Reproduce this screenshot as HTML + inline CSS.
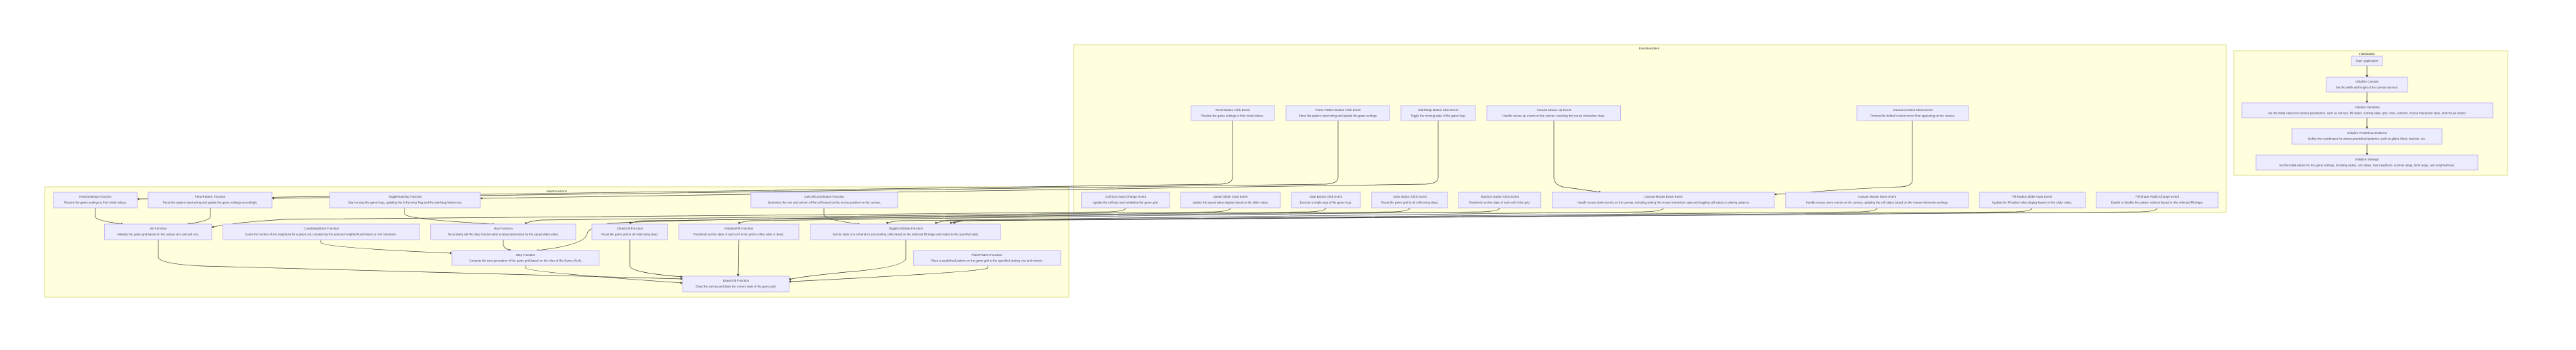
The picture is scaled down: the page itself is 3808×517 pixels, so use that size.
<!DOCTYPE html>
<html><head><meta charset="utf-8"><style>
html,body{margin:0;padding:0;background:#fff;width:3808px;height:517px;overflow:hidden}
svg{display:block}
.c{fill:#ffffde;stroke:#dede8a;stroke-width:1}
.n{fill:#ececff;stroke:#c9b8f0;stroke-width:1}
text{font-family:"Liberation Sans",sans-serif;fill:#444;text-anchor:middle}
.t{font-size:4.6px}
.d{font-size:4.4px}
.l{font-size:4.6px;fill:#333}
.e{fill:none;stroke:#3a3a3a;stroke-width:0.7}
</style></head><body>
<svg width="3808" height="517" viewBox="0 0 3808 517" xmlns="http://www.w3.org/2000/svg">
<defs><marker id="a" viewBox="0 0 10 10" refX="9" refY="5" markerWidth="5" markerHeight="5" orient="auto"><path d="M0,0L10,5L0,10z" fill="#333"/></marker></defs>

<!-- containers -->
<rect class="c" x="66" y="276" width="1514" height="163"/>
<text class="l" x="823" y="284">MainFunctions</text>
<rect class="c" x="1587" y="66" width="1704" height="248"/>
<text class="l" x="2438" y="73">EventHandlers</text>
<rect class="c" x="3302" y="75" width="405" height="184"/>
<text class="l" x="3499" y="81">Initialization</text>

<!-- edges -->
<g class="e" marker-end="url(#a)">
<path d="M1822,178 L1822,262 Q1822,271 1805,272 C1200,280 600,292 203,294"/>
<path d="M1978,178 L1978,262 Q1978,271 1960,272 C1400,280 900,290 402,293"/>
<path d="M2126,178 L2126,262 Q2126,271 2108,272 C1600,280 1100,290 710,293"/>
<path d="M2297,178 L2297,262 Q2297,272 2310,276 L2367,284"/>
<path d="M2827,178 L2827,266 Q2827,275 2810,276 C2700,280 2660,286 2623,287"/>
<path d="M1664,307 Q1664,312 1640,313 C1200,318 600,322 420,324 Q330,330 313,336"/>
<path d="M1819,307 Q1819,312 1795,313 C1400,318 900,322 800,325 Q780,327 776,331"/>
<path d="M1960,307 Q1960,312 1935,313 C1500,318 1000,323 900,330 Q870,336 868,345 Q866,362 793,370"/>
<path d="M2084,307 Q2084,312 2060,313 C1700,318 1100,322 950,326 Q932,328 931,331"/>
<path d="M2217,307 Q2217,312 2190,313 C1800,318 1200,322 1110,326 Q1093,328 1092,331"/>
<path d="M2459,307 Q2459,312 2430,313 C2000,318 1500,322 1330,326 Q1312,328 1311,331"/>
<path d="M2775,307 Q2775,312 2750,313 C2300,318 1700,322 1400,326 Q1384,328 1383,331"/>
<path d="M3004,307 Q3004,312 2980,313 C2500,318 1800,322 1420,326 Q1406,328 1405,331"/>
<path d="M3189,307 Q3189,312 3165,313 C2600,318 1900,322 1425,326 Q1411,328 1410,331"/>
<path d="M141,307 L141,320 Q141,326 182,331"/>
<path d="M311,307 L311,320 Q311,326 277,331"/>
<path d="M598,307 L598,316 Q600,324 731,331"/>
<path d="M1218,307 L1218,318 Q1222,325 1271,331"/>
<path d="M474,354 L474,358 Q478,366 668,374"/>
<path d="M234,354 L234,380 Q236,390 300,393 C600,402 900,408 1009,412"/>
<path d="M744,354 L744,362 Q746,368 756,370"/>
<path d="M777,392 L777,396 Q780,402 1009,418"/>
<path d="M931,354 L931,393 Q933,403 1009,409"/>
<path d="M1092,354 L1091,408"/>
<path d="M1339,354 L1339,382 Q1337,395 1250,402 Q1180,409 1166,413"/>
<path d="M1460,392 L1460,396 Q1450,402 1166,416"/>
<path d="M3499,97 L3499,114"/>
<path d="M3499,136 L3499,152"/>
<path d="M3499,174 L3499,190"/>
<path d="M3499,213 L3499,229"/>
</g>

<!-- MainFunctions nodes -->
<g>
<rect class="n" x="79" y="284" width="124" height="23"/><text class="t" x="141" y="292">ResetSettings Function</text><text class="d" x="141" y="300.5">Restore the game settings to their initial values.</text>
<rect class="n" x="219" y="284" width="183" height="23"/><text class="t" x="310.5" y="292">ParsePattern Function</text><text class="d" x="310.5" y="300.5">Parse the pattern input string and update the game settings accordingly.</text>
<rect class="n" x="487.5" y="284" width="222.5" height="23"/><text class="t" x="599" y="292">ToggleRunning Function</text><text class="d" x="599" y="300.5">Start or stop the game loop, updating the 'isRunning' flag and the start/stop button text.</text>
<rect class="n" x="1110" y="284" width="217" height="23"/><text class="t" x="1218.5" y="292">GetCellCoordinates Function</text><text class="d" x="1218.5" y="300.5">Determine the row and column of the cell based on the mouse position on the canvas.</text>

<rect class="n" x="154.5" y="331" width="158.5" height="23"/><text class="t" x="234" y="339">Init Function</text><text class="d" x="234" y="347.5">Initialize the game grid based on the canvas size and cell size.</text>
<rect class="n" x="329.5" y="331" width="290.5" height="23"/><text class="t" x="475" y="339">CountNeighbors Function</text><text class="d" x="475" y="347.5">Count the number of live neighbors for a given cell, considering the selected neighborhood Moore or Von Neumann .</text>
<rect class="n" x="636.6" y="331" width="214.4" height="23"/><text class="t" x="744" y="339">Run Function</text><text class="d" x="744" y="347.5">Recursively call the Step function after a delay determined by the speed slider value.</text>
<rect class="n" x="875" y="331" width="111.6" height="23"/><text class="t" x="931" y="339">ClearGrid Function</text><text class="d" x="931" y="347.5">Reset the game grid to all cells being dead.</text>
<rect class="n" x="1003.6" y="331" width="177.4" height="23"/><text class="t" x="1092" y="339">RandomFill Function</text><text class="d" x="1092" y="347.5">Randomly set the state of each cell in the grid to either alive or dead.</text>
<rect class="n" x="1197.8" y="331" width="281.7" height="23"/><text class="t" x="1339" y="339">ToggleCellState Function</text><text class="d" x="1339" y="347.5">Set the state of a cell and its surrounding cells based on the selected fill shape and radius to the specified state.</text>

<rect class="n" x="668" y="370" width="217.7" height="22"/><text class="t" x="777" y="378">Step Function</text><text class="d" x="777" y="386.5">Compute the next generation of the game grid based on the rules of the Game of Life.</text>
<rect class="n" x="1350.4" y="370" width="217.6" height="22"/><text class="t" x="1459" y="378">PlacePattern Function</text><text class="d" x="1459" y="386.5">Place a predefined pattern on the game grid at the specified starting row and column.</text>

<rect class="n" x="1009" y="408" width="157.5" height="23"/><text class="t" x="1088" y="416">DrawGrid Function</text><text class="d" x="1088" y="424.5">Clear the canvas and draw the current state of the game grid.</text>
</g>

<!-- EventHandlers nodes -->
<g>
<rect class="n" x="1760.7" y="156" width="123.3" height="22"/><text class="t" x="1822" y="164">Reset Button Click Event</text><text class="d" x="1822" y="172.5">Restore the game settings to their initial values.</text>
<rect class="n" x="1901" y="156" width="153.6" height="22"/><text class="t" x="1978" y="164">Parse Pattern Button Click Event</text><text class="d" x="1978" y="172.5">Parse the pattern input string and update the game settings.</text>
<rect class="n" x="2071" y="156" width="110" height="22"/><text class="t" x="2126" y="164">Start/Stop Button Click Event</text><text class="d" x="2126" y="172.5">Toggle the running state of the game loop.</text>
<rect class="n" x="2198" y="156" width="197.5" height="22"/><text class="t" x="2297" y="164">Canvas Mouse Up Event</text><text class="d" x="2297" y="172.5">Handle mouse up events on the canvas, resetting the mouse interaction state.</text>
<rect class="n" x="2745" y="156" width="165" height="22"/><text class="t" x="2827.5" y="164">Canvas Context Menu Event</text><text class="d" x="2827.5" y="172.5">Prevent the default context menu from appearing on the canvas.</text>

<rect class="n" x="1598.7" y="284" width="130.3" height="23"/><text class="t" x="1664" y="292">Cell Size Input Change Event</text><text class="d" x="1664" y="300.5">Update the cell size and reinitialize the game grid.</text>
<rect class="n" x="1745.5" y="284" width="146.9" height="23"/><text class="t" x="1819" y="292">Speed Slider Input Event</text><text class="d" x="1819" y="300.5">Update the speed value display based on the slider value.</text>
<rect class="n" x="1909" y="284" width="102" height="23"/><text class="t" x="1960" y="292">Step Button Click Event</text><text class="d" x="1960" y="300.5">Execute a single step of the game loop.</text>
<rect class="n" x="2027.7" y="284" width="112" height="23"/><text class="t" x="2084" y="292">Clear Button Click Event</text><text class="d" x="2084" y="300.5">Reset the game grid to all cells being dead.</text>
<rect class="n" x="2156" y="284" width="121.7" height="23"/><text class="t" x="2217" y="292">Random Button Click Event</text><text class="d" x="2217" y="300.5">Randomly set the state of each cell in the grid.</text>
<rect class="n" x="2294.6" y="284" width="328.4" height="23"/><text class="t" x="2459" y="292">Canvas Mouse Down Event</text><text class="d" x="2459" y="300.5">Handle mouse down events on the canvas, including setting the mouse interaction state and toggling cell states or placing patterns.</text>
<rect class="n" x="2639.7" y="284" width="270.1" height="23"/><text class="t" x="2775" y="292">Canvas Mouse Move Event</text><text class="d" x="2775" y="300.5">Handle mouse move events on the canvas, updating the cell states based on the mouse interaction settings.</text>
<rect class="n" x="2926" y="284" width="156.6" height="23"/><text class="t" x="3004" y="292">Fill Radius Slider Input Event</text><text class="d" x="3004" y="300.5">Update the fill radius value display based on the slider value.</text>
<rect class="n" x="3099" y="284" width="180" height="23"/><text class="t" x="3189" y="292">Fill Shape Radio Change Event</text><text class="d" x="3189" y="300.5">Enable or disable the pattern selector based on the selected fill shape.</text>
</g>

<!-- Initialization nodes -->
<g>
<rect class="n" x="3476" y="83" width="46" height="14"/><text class="t" x="3499" y="91.5">Start Application</text>
<rect class="n" x="3439" y="114" width="120" height="22"/><text class="t" x="3499" y="122">Initialize Canvas</text><text class="d" x="3499" y="130.5">Set the width and height of the canvas element.</text>
<rect class="n" x="3314" y="152" width="371" height="22"/><text class="t" x="3499.5" y="160">Initialize Variables</text><text class="d" x="3499.5" y="168.5">Set the initial values for various parameters, such as cell size, fill radius, running state, grid, rows, columns, mouse interaction state, and mouse button.</text>
<rect class="n" x="3388" y="190" width="222" height="23"/><text class="t" x="3499" y="198">Initialize Predefined Patterns</text><text class="d" x="3499" y="206.5">Define the coordinates for various predefined patterns, such as glider, block, beehive, etc.</text>
<rect class="n" x="3335" y="229" width="328" height="22"/><text class="t" x="3499" y="237">Initialize Settings</text><text class="d" x="3499" y="245.5">Set the initial values for the game settings, including radius, cell states, max neighbors, survival range, birth range, and neighborhood.</text>
</g>
</svg>
</body></html>
